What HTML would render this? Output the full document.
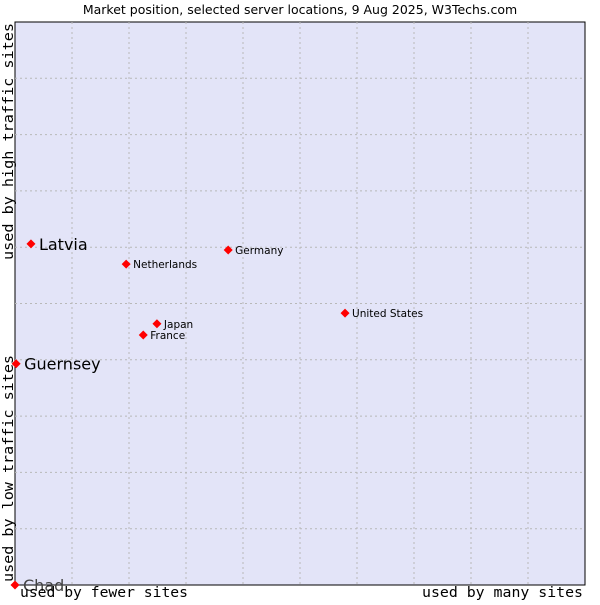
<!DOCTYPE html>
<html><head><meta charset="utf-8"><style>
body{margin:0;background:#fff}
svg text{font-family:"DejaVu Sans","Liberation Sans",sans-serif}
.mono{font-family:"DejaVu Sans Mono","Liberation Mono",monospace}
</style></head><body>
<svg id="chart" width="600" height="600">
<text x="300" y="14" text-anchor="middle" font-size="12.5" fill="#000">Market position, selected server locations, 9 Aug 2025, W3Techs.com</text>
<rect x="15" y="22" width="570" height="563" fill="#e3e4f8" stroke="#000" stroke-width="1"/>
<g id="grid"></g>
<g id="points"></g>
<text class="mono" x="20" y="597" font-size="14.5" textLength="168" lengthAdjust="spacingAndGlyphs">used by fewer sites</text>
<text class="mono" x="422" y="597" font-size="14.5" textLength="161" lengthAdjust="spacingAndGlyphs">used by many sites</text>
<text class="mono" transform="translate(13,582) rotate(-90)" font-size="14.5" textLength="227" lengthAdjust="spacingAndGlyphs">used by low traffic sites</text>
<text class="mono" transform="translate(13,260) rotate(-90)" font-size="14.5" textLength="237" lengthAdjust="spacingAndGlyphs">used by high traffic sites</text>
</svg>
<script>
const names=["Latvia","Guernsey","Chad","Netherlands","Germany","United States","Japan","France"];
const xVals=[2.8,0.2,0,19.5,37.4,57.9,24.9,22.5];
const yVals=[60.6,39.3,0,57.0,59.5,48.3,46.4,44.4];
const big=[true,true,true,false,false,false,false,false];
const ticks=[10,20,30,40,50,60,70,80,90];
const ns="http://www.w3.org/2000/svg";
const X=v=>15+v*5.7, Y=v=>585-v*5.63;
const g=document.getElementById('grid'), p=document.getElementById('points');
ticks.forEach(t=>{
 const a=document.createElementNS(ns,'line');
 
 
 a.setAttribute('x1',X(t));a.setAttribute('x2',X(t));a.setAttribute('y1',22);a.setAttribute('y2',585);
 a.setAttribute('stroke','#b8b8b8');a.setAttribute('stroke-dasharray','2,3');g.appendChild(a);
 const b=document.createElementNS(ns,'line');
 
 
 b.setAttribute('y1',Y(t));b.setAttribute('y2',Y(t));b.setAttribute('x1',15);b.setAttribute('x2',585);
 b.setAttribute('stroke','#b8b8b8');b.setAttribute('stroke-dasharray','2,3');g.appendChild(b);
});
names.forEach((n,i)=>{
 const cx=X(xVals[i]), cy=Y(yVals[i]);
 const d=document.createElementNS(ns,'polygon');
 
 
 d.setAttribute('points',`${cx},${cy-4.5} ${cx+4.5},${cy} ${cx},${cy+4.5} ${cx-4.5},${cy}`);
 d.setAttribute('fill','#f00');p.appendChild(d);
 const t=document.createElementNS(ns,'text');
 
 
 t.setAttribute('x',cx+(big[i]?8:7));t.setAttribute('y',cy+(big[i]?6:4));
 t.setAttribute('font-size',big[i]?'16':'10.5');
 t.setAttribute('fill', n==='Chad'?'#444':'#000');
 t.textContent=n;p.appendChild(t);
});
</script>
</body></html>
